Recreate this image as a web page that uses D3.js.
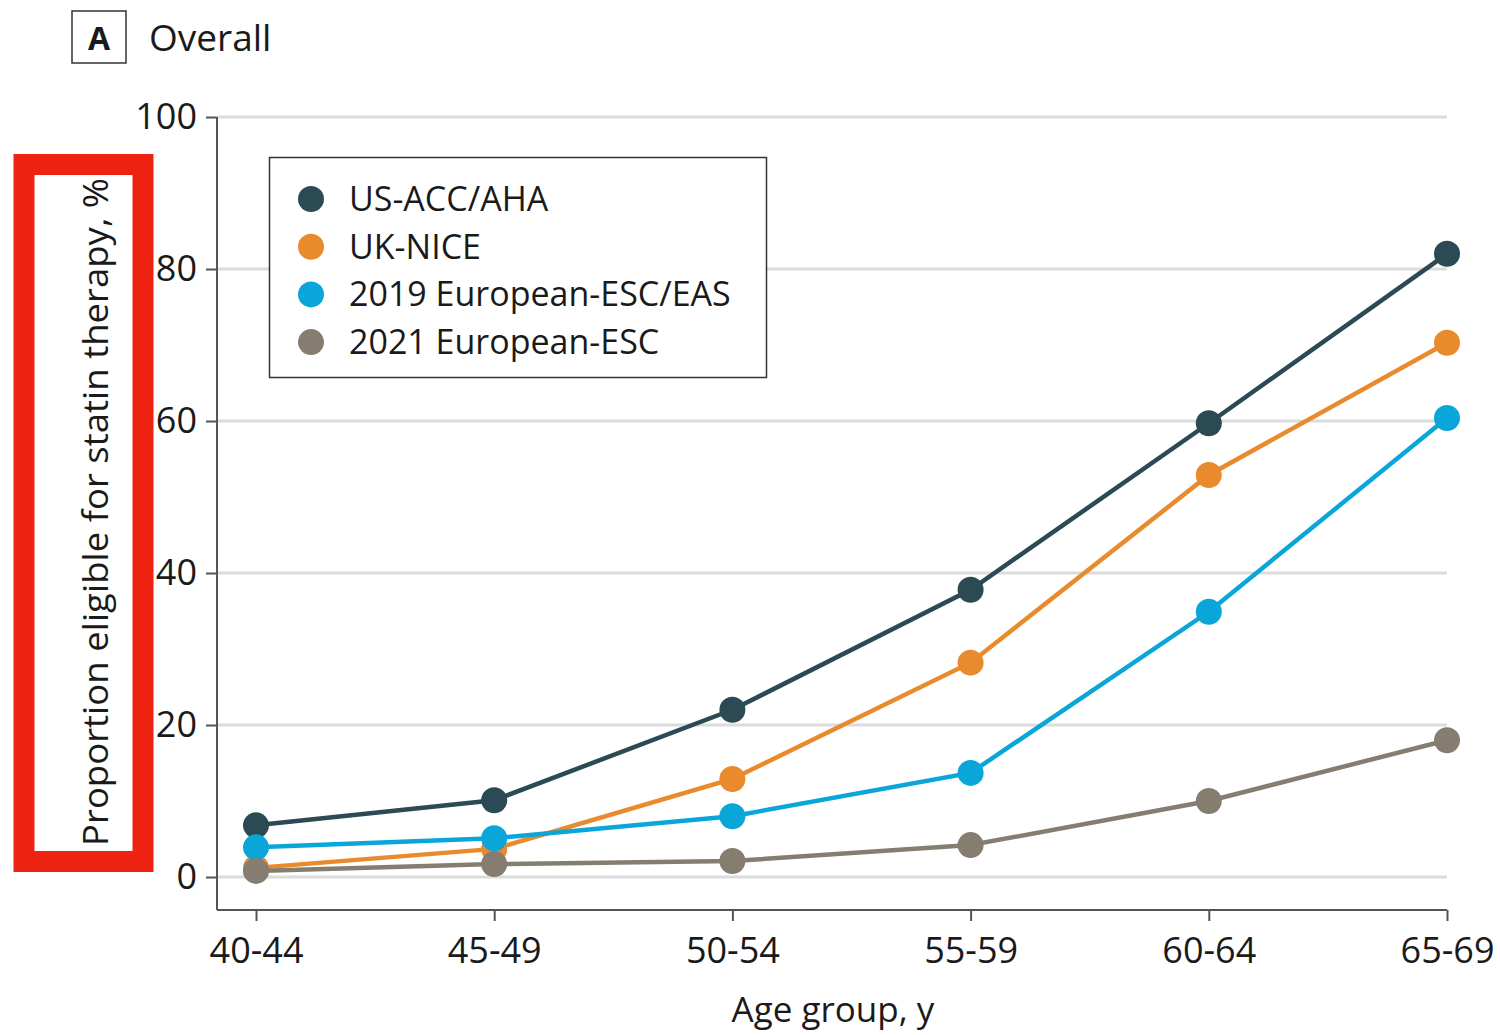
<!DOCTYPE html>
<html><head><meta charset="utf-8">
<script src="https://cdn.jsdelivr.net/npm/d3@7"></script>
<style>body{margin:0;background:#fff}svg{display:block}text{font-family:"Open Sans","Noto Sans",sans-serif;fill:#1a1a1a}</style>
</head><body>
<script>
const categories = ["40-44","45-49","50-54","55-59","60-64","65-69"];
const seriesNames = ["US-ACC/AHA","UK-NICE","2019 European-ESC/EAS","2021 European-ESC"];
const usAccAha = [6.8, 10.1, 22.0, 37.8, 59.7, 82.0];
const ukNice = [1.2, 3.7, 12.9, 28.2, 52.9, 70.3];
const esc2019 = [3.9, 5.1, 8.0, 13.7, 34.9, 60.4];
const esc2021 = [0.8, 1.7, 2.1, 4.2, 10.0, 18.0];
const yTicks = [0, 20, 40, 60, 80, 100];
const colors = ["#2c4a54", "#e98a2c", "#0aa6d9", "#857d6f"];
const seriesValues = [usAccAha, ukNice, esc2019, esc2021];

const W = 1500, H = 1035;
const svg = d3.select("body").append("svg").attr("width", W).attr("height", H);

const x = d3.scalePoint().domain(categories).range([256, 1447]);
const y = d3.scaleLinear().domain([0, 100]).range([877, 117]);

// gridlines
svg.append("g").selectAll("line").data(yTicks).join("line")
  .attr("x1", 217).attr("x2", 1447)
  .attr("y1", d => y(d)).attr("y2", d => y(d))
  .attr("stroke", "#dcdcdc").attr("stroke-width", 3);

// y axis
const yAxis = svg.append("g").attr("transform", "translate(217,0)")
  .call(d3.axisLeft(y).tickValues(yTicks).tickSize(11).tickPadding(9).tickSizeOuter(0));
yAxis.select(".domain").attr("stroke", "#555").attr("stroke-width", 2).attr("d", "M0,117V910");
yAxis.selectAll(".tick line").attr("stroke", "#555").attr("stroke-width", 2);
yAxis.selectAll(".tick text").attr("font-size", 36).attr("fill", "#1a1a1a")
  .style("font-family", '"Open Sans","Noto Sans",sans-serif');

// x axis
const xAxis = svg.append("g").attr("transform", "translate(0,910)")
  .call(d3.axisBottom(x).tickSize(11).tickPadding(16).tickSizeOuter(0));
xAxis.select(".domain").attr("stroke", "#555").attr("stroke-width", 2).attr("d", "M217,0H1447");
xAxis.selectAll(".tick line").attr("stroke", "#555").attr("stroke-width", 2);
xAxis.selectAll(".tick text").attr("font-size", 36).attr("fill", "#1a1a1a")
  .style("font-family", '"Open Sans","Noto Sans",sans-serif');

// lines and points
const line = d3.line().x((d, i) => x(categories[i])).y(d => y(d));
seriesValues.forEach((vals, s) => {
  const g = svg.append("g");
  g.append("path").datum(vals).attr("d", line).attr("fill", "none")
    .attr("stroke", colors[s]).attr("stroke-width", 4.5);
  g.selectAll("circle").data(vals).join("circle")
    .attr("cx", (d, i) => x(categories[i])).attr("cy", d => y(d))
    .attr("r", 13).attr("fill", colors[s]);
});

// legend
const lg = svg.append("g");
lg.append("rect").attr("x", 269.5).attr("y", 157.5).attr("width", 497).attr("height", 220)
  .attr("fill", "#fff").attr("stroke", "#333").attr("stroke-width", 1.5);
seriesNames.forEach((n, i) => {
  const cy = 199 + i * 47.7;
  lg.append("circle").attr("cx", 311).attr("cy", cy).attr("r", 13).attr("fill", colors[i]);
  lg.append("text").attr("x", 349).attr("y", cy + 12).attr("font-size", 34).text(n);
});

// title
svg.append("rect").attr("x", 72).attr("y", 11).attr("width", 54).attr("height", 52)
  .attr("fill", "none").attr("stroke", "#333").attr("stroke-width", 1.5);
svg.append("text").attr("x", 99).attr("y", 50).attr("text-anchor", "middle")
  .attr("font-size", 32).attr("font-weight", "bold").text("A");
svg.append("text").attr("x", 149).attr("y", 51).attr("font-size", 37).text("Overall");

// axis titles
svg.append("text").attr("x", 833).attr("y", 1022).attr("text-anchor", "middle")
  .attr("font-size", 35).text("Age group, y");
svg.append("text").attr("transform", "translate(108,512) rotate(-90)").attr("text-anchor", "middle")
  .attr("font-size", 34).attr("textLength", 668).attr("lengthAdjust", "spacingAndGlyphs")
  .text("Proportion eligible for statin therapy, %");

// red highlight box
svg.append("rect").attr("x", 24).attr("y", 164.5).attr("width", 119).attr("height", 697)
  .attr("fill", "none").attr("stroke", "#ee2211").attr("stroke-width", 21);
</script>
</body></html>
